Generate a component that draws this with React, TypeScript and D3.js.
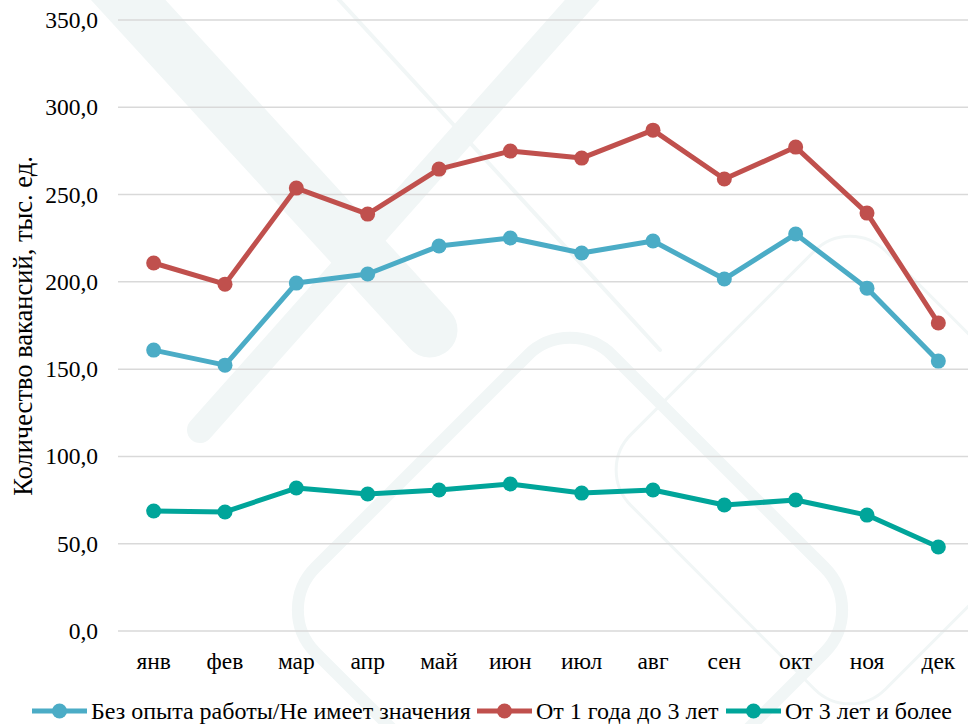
import React from "react";
import * as d3 from "d3";

const months = ["янв", "фев", "мар", "апр", "май", "июн", "июл", "авг", "сен", "окт", "ноя", "дек"];
const noExperience = [160.9, 152.3, 199.3, 204.5, 220.5, 225.1, 216.5, 223.4, 201.6, 227.4, 196.4, 154.6];
const oneToThree = [210.8, 198.7, 253.7, 238.8, 264.6, 274.9, 270.9, 286.9, 258.9, 277.2, 239.4, 176.4];
const threePlus = [68.7, 68.2, 81.9, 78.5, 80.8, 84.2, 79.0, 80.8, 72.2, 75.0, 66.4, 48.1];
const yTicks = [0, 50, 100, 150, 200, 250, 300, 350];
const seriesNames = ["Без опыта работы/Не имеет значения", "От 1 года до 3 лет", "От 3 лет и более"];
const seriesColors = ["#4bacc6", "#c0504d", "#00a59a"];

const W = 968;
const H = 724;
const margin = { left: 118, right: -6, top: 20, bottom: 93 };
const textStyle = { fontFamily: "'Liberation Serif', 'Times New Roman', serif" };

export default function App() {
  const x = d3
    .scaleBand<string>()
    .domain(months)
    .range([margin.left, W - margin.right])
    .paddingInner(0)
    .paddingOuter(0);
  const y = d3.scaleLinear().domain([0, 350]).range([H - margin.bottom, margin.top]);
  const fmt = (v: number) => v.toFixed(1).replace(".", ",");
  const data = [noExperience, oneToThree, threePlus];
  const line = d3
    .line<number>()
    .x((_, i) => (x(months[i]) as number) + x.bandwidth() / 2)
    .y((d) => y(d));

  const legendX = [32, 477, 726];
  const legendY = 711;

  return (
    <svg width={W} height={H} style={{ display: "block", position: "absolute", left: 0, top: 0 }}>
      <rect x={0} y={0} width={W} height={H} fill="#ffffff" />
      {/* faint watermark */}
      <g fill="none" stroke="#f1f6f6" strokeLinecap="round">
        <path d="M110,-20 L430,330" strokeWidth={55} />
        <path d="M600,-20 L200,430" strokeWidth={26} />
        <rect
          x={570 - 210}
          y={610 - 210}
          width={420}
          height={420}
          rx={60}
          transform="rotate(45 570 610)"
          strokeWidth={12}
        />
        <rect
          x={850 - 180}
          y={470 - 180}
          width={360}
          height={360}
          rx={50}
          transform="rotate(45 850 470)"
          strokeWidth={3}
        />
        <path d="M330,-10 L660,350" strokeWidth={4} />
      </g>

      {/* gridlines */}
      {yTicks.map((t) => (
        <line key={t} x1={margin.left} x2={W} y1={y(t)} y2={y(t)} stroke="#d9d9d9" strokeWidth={1.5} />
      ))}
      {/* y tick labels */}
      {yTicks.map((t) => (
        <text
          key={"l" + t}
          x={98}
          y={y(t) + 8}
          textAnchor="end"
          fontSize={23.5}
          style={textStyle}
          fill="#000"
        >
          {fmt(t)}
        </text>
      ))}
      {/* y axis title */}
      <text
        transform={`translate(32, 326) rotate(-90)`}
        textAnchor="middle"
        fontSize={26.5}
        style={textStyle}
        fill="#000"
      >
        Количество вакансий, тыс. ед.
      </text>
      {/* x labels */}
      {months.map((m) => (
        <text
          key={m}
          x={(x(m) as number) + x.bandwidth() / 2}
          y={669}
          textAnchor="middle"
          fontSize={23.5}
          style={textStyle}
          fill="#000"
        >
          {m}
        </text>
      ))}

      {/* series */}
      {data.map((s, si) => (
        <g key={si}>
          <path d={line(s) || ""} fill="none" stroke={seriesColors[si]} strokeWidth={5} strokeLinejoin="round" />
          {s.map((v, i) => (
            <circle
              key={i}
              cx={(x(months[i]) as number) + x.bandwidth() / 2}
              cy={y(v)}
              r={7.5}
              fill={seriesColors[si]}
            />
          ))}
        </g>
      ))}

      {/* legend */}
      {seriesNames.map((n, i) => (
        <g key={n}>
          <line
            x1={legendX[i]}
            x2={legendX[i] + 55}
            y1={legendY}
            y2={legendY}
            stroke={seriesColors[i]}
            strokeWidth={5}
          />
          <circle cx={legendX[i] + 27.5} cy={legendY} r={7.5} fill={seriesColors[i]} />
          <text x={legendX[i] + 59} y={legendY + 8} fontSize={24} style={textStyle} fill="#000">
            {n}
          </text>
        </g>
      ))}
    </svg>
  );
}
